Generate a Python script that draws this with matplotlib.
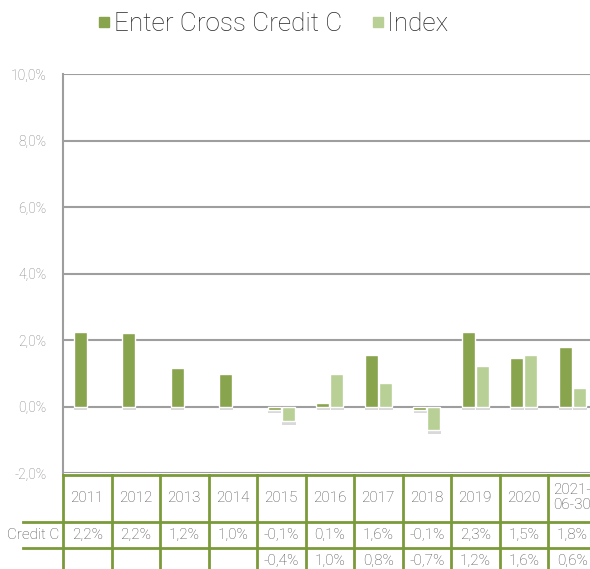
import numpy as np
import matplotlib
matplotlib.use("Agg")
import matplotlib.pyplot as plt
import matplotlib.patheffects as pe
from matplotlib.ticker import FuncFormatter, MultipleLocator
from matplotlib.lines import Line2D

plt.rcParams['font.family'] = ['Roboto', 'DejaVu Sans']
plt.rcParams['font.weight'] = 'light'

# data
years = ['2011', '2012', '2013', '2014', '2015', '2016', '2017', '2018', '2019', '2020', '2021-\n06-30']
credit_c = [2.25, 2.2, 1.15, 0.97, -0.1, 0.1, 1.55, -0.1, 2.25, 1.45, 1.78]
index = [np.nan, np.nan, np.nan, np.nan, -0.44, 0.97, 0.72, -0.72, 1.21, 1.55, 0.55]
credit_lbl = ['2,2%', '2,2%', '1,2%', '1,0%', '-0,1%', '0,1%', '1,6%', '-0,1%', '2,3%', '1,5%', '1,8%']
index_lbl = ['', '', '', '', '-0,4%', '1,0%', '0,8%', '-0,7%', '1,2%', '1,6%', '0,6%']

c_dark = '#88a44c'
c_light = '#b8cf95'
c_grid = '#9e9e9e'
c_tab = '#7b9a3a'
c_txt = '#4d4d4d'

W, H = 590, 569
fig = plt.figure(figsize=(W / 100, H / 100), dpi=100)

# main plot area
x0, x1 = 63, 596.5
ytop, ybot = 74, 473
ax = fig.add_axes([x0 / W, 1 - ybot / H, (x1 - x0) / W, (ybot - ytop) / H])
x = np.arange(len(years))
shadow = [pe.SimplePatchShadow(offset=(0.5, -2.5), shadow_rgbFace='black', alpha=0.15), pe.Normal()]
b1 = ax.bar(x - 0.145, credit_c, 0.27, color=c_dark, edgecolor='white', linewidth=1, zorder=3)
b2 = ax.bar(x + 0.145, index, 0.27, color=c_light, edgecolor='white', linewidth=1, zorder=3)
for b in list(b1) + list(b2):
    b.set_path_effects(shadow)

ax.set_xlim(-0.5, len(years) - 0.5)
ax.set_ylim(-2, 10)
ax.yaxis.set_major_locator(MultipleLocator(2))
ax.yaxis.set_major_formatter(FuncFormatter(lambda v, p: f'{v:.1f}%'.replace('.', ',')))
ax.grid(axis='y', color=c_grid, linewidth=1.5, zorder=0)
ax.tick_params(axis='y', length=0, pad=12, labelsize=10, labelcolor='#7f7f7f')
ax.tick_params(axis='x', length=0, labelbottom=False)
for s in ['top', 'right', 'bottom']:
    ax.spines[s].set_visible(False)
ax.spines['left'].set_color(c_grid)
ax.spines['left'].set_linewidth(1.5)

# data table below
tab = fig.add_axes([x0 / W, 0, (x1 - x0) / W, (H - ybot) / H])
tab.set_xlim(-0.5, len(years) - 0.5)
tab.set_ylim(H - ybot, 0)
tab.axis('off')
r1, r2 = 49, 75
tab.plot([-0.5, len(years) - 0.5], [1.5, 1.5], color=c_tab, lw=2, clip_on=False)
for yy in [r1, r2]:
    tab.plot([-1.32, len(years) - 0.5], [yy, yy], color=c_tab, lw=2, clip_on=False)
for k in range(len(years) + 1):
    tab.plot([k - 0.5, k - 0.5], [1.5, H - ybot], color=c_tab, lw=2, clip_on=False)
for i, yr in enumerate(years):
    tab.text(i, r1 / 2, yr, ha='center', va='center', fontsize=11, color=c_txt, linespacing=1.05)
    tab.text(i, (r1 + r2) / 2, credit_lbl[i], ha='center', va='center', fontsize=11, color=c_txt)
    tab.text(i, r2 + 13, index_lbl[i], ha='center', va='center', fontsize=11, color=c_txt)
tab.text(-0.58, (r1 + r2) / 2, 'Credit C', ha='right', va='center', fontsize=11, color=c_txt, clip_on=False)

# legend
handles = [Line2D([], [], marker='s', ls='', color=c_dark, markersize=6.5),
           Line2D([], [], marker='s', ls='', color=c_light, markersize=6.5)]
fig.legend(handles, ['Enter Cross Credit C', 'Index'], loc='center', bbox_to_anchor=(0.462, 0.958),
           ncol=2, frameon=False, fontsize=18.8, handletextpad=0.05, columnspacing=1.1,
           labelcolor='#262626', handlelength=0.6)

fig.savefig('out.png', dpi=100)
